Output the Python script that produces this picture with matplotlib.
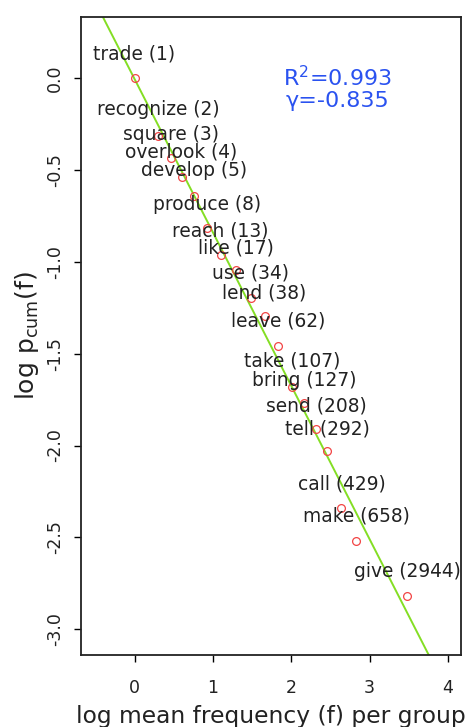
import numpy as np
import matplotlib
matplotlib.use("Agg")
import matplotlib.pyplot as plt

# verb groups: representative verb and mean frequency of the group
verbs = ["trade", "recognize", "square", "overlook", "develop", "produce",
         "reach", "like", "use", "lend", "leave", "take", "bring", "send",
         "tell", "call", "make", "give"]
mean_freq = [1, 2, 3, 4, 5, 8, 13, 17, 34, 38, 62, 107, 127, 208, 292,
             429, 658, 2944]

# log mean frequency per group (x) and log p_cum(f) (y)
log_freq = [0.00, 0.30, 0.46, 0.60, 0.76, 0.93, 1.10, 1.30, 1.48, 1.66,
            1.83, 2.01, 2.16, 2.32, 2.46, 2.64, 2.83, 3.48]
log_pcum = [0.00, -0.316, -0.437, -0.537, -0.640, -0.816, -0.963, -1.045,
            -1.199, -1.295, -1.456, -1.680, -1.767, -1.911, -2.029, -2.341,
            -2.517, -2.818]

# vertical placement of each word label
label_y = [0.131, -0.174, -0.305, -0.405, -0.504, -0.691, -0.831, -0.925,
           -1.063, -1.168, -1.324, -1.541, -1.645, -1.783, -1.910, -2.209,
           -2.383, -2.686]

# fitted power law
r_squared = 0.993
gamma = -0.835
intercept = -0.005

plt.rcParams['axes.unicode_minus'] = False
plt.rcParams['mathtext.fontset'] = 'dejavusans'

fig = plt.figure(figsize=(4.67, 7.27), dpi=100)
ax = fig.add_axes([81 / 467, 72 / 727, 380 / 467, 638 / 727])

ax.axline((0, intercept), slope=gamma, color='#84de24', lw=1.4, zorder=1)
ax.plot(log_freq, log_pcum, 'o', ms=5.6, mfc='none', mec='#f24545',
        mew=0.9, zorder=2)

for x, ly, v, f in zip(log_freq, label_y, verbs, mean_freq):
    ax.text(x, ly, f"{v} ({f})", ha='center', va='center', fontsize=13.4,
            color='#222222', zorder=3)

ax.text(0.675, 0.905, f"R$^2$={r_squared}", transform=ax.transAxes,
        ha='center', va='center', fontsize=16, color='#2a52f0')
ax.text(0.675, 0.868, f"γ={gamma}", transform=ax.transAxes,
        ha='center', va='center', fontsize=16, color='#2a52f0')

ax.set_xlim(-0.683, 4.166)
ax.set_ylim(-3.14, 0.332)

ax.set_xticks([0, 1, 2, 3, 4])
ax.set_yticks([-3.0, -2.5, -2.0, -1.5, -1.0, -0.5, 0.0])
ax.set_yticklabels([f"{t:.1f}" for t in [-3.0, -2.5, -2.0, -1.5, -1.0, -0.5, 0.0]],
                   rotation=90, va='center')
ax.tick_params(axis='x', length=5, width=1, pad=12, labelsize=12.5,
               labelcolor='#222222')
ax.tick_params(axis='y', length=5, width=1, pad=7, labelsize=12.5,
               labelcolor='#222222')

for s in ax.spines.values():
    s.set_linewidth(1.3)
    s.set_color('#222222')

ax.set_xlabel("log mean frequency (f) per group", fontsize=16.8, color='#222222')
ax.xaxis.set_label_coords(0.5, -0.078)
ax.set_ylabel(r"log p$_{\mathrm{cum}}$(f)", fontsize=18, color='#222222')
ax.yaxis.set_label_coords(-0.105, 0.5)

fig.savefig("out.png", dpi=100)
